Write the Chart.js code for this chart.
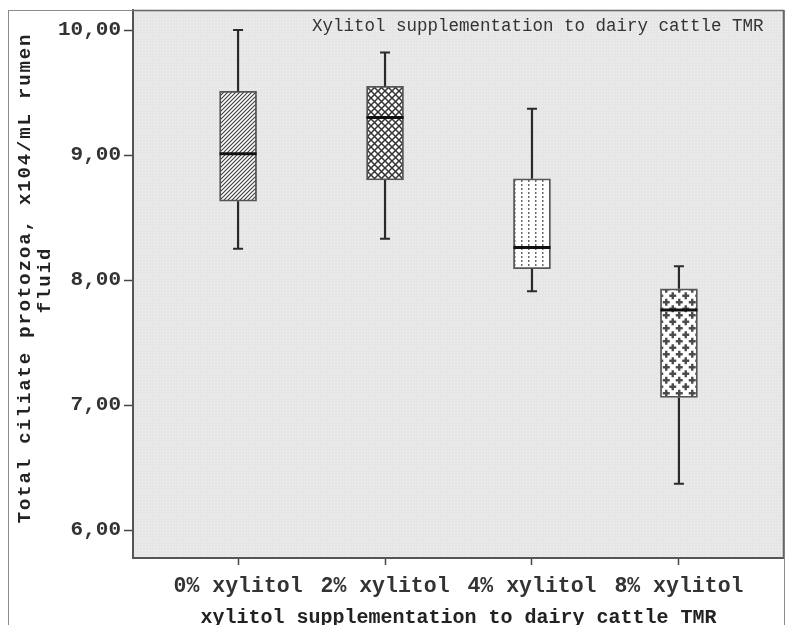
<!DOCTYPE html>
<html>
<head>
<meta charset="utf-8">
<script src="https://cdn.jsdelivr.net/npm/chart.js@4/dist/chart.umd.min.js"></script>
<style>
html,body{margin:0;padding:0;background:#fff;}
#wrap{width:787px;height:625px;position:relative;}
</style>
</head>
<body>
<div id="wrap"><canvas id="c"></canvas></div>
<script>
// ---- data ----
const categories = ["0% xylitol", "2% xylitol", "4% xylitol", "8% xylitol"];
const whiskerMax = [10.00, 9.82, 9.37, 8.11];
const q3Values   = [9.51, 9.55, 8.81, 7.93];
const medians    = [9.01, 9.30, 8.26, 7.76];
const q1Values   = [8.63, 8.80, 8.09, 7.06];
const whiskerMin = [8.25, 8.33, 7.91, 6.37];
const yTicks = [6, 7, 8, 9, 10];
const chartTitle = "Xylitol supplementation to dairy cattle TMR";
const xTitle = "xylitol supplementation to dairy cattle TMR";
const yTitle = ["Total ciliate protozoa, x104/mL rumen", "fluid"];

// ---- patterns ----
function tile(w, h, draw) {
  const c = document.createElement('canvas');
  c.width = w; c.height = h;
  const g = c.getContext('2d');
  g.fillStyle = '#ffffff';
  g.fillRect(0, 0, w, h);
  draw(g, w, h);
  return document.createElement('canvas').getContext('2d').createPattern(c, 'repeat');
}
const patDiag = tile(4, 4, (g) => {
  g.strokeStyle = '#3a3a3a'; g.lineWidth = 1.1;
  g.beginPath();
  g.moveTo(-1, 5); g.lineTo(5, -1);
  g.moveTo(-1, 1); g.lineTo(1, -1);
  g.moveTo(3, 5); g.lineTo(5, 3);
  g.stroke();
});
const patCross = tile(7, 7, (g) => {
  g.strokeStyle = '#333'; g.lineWidth = 1.5;
  g.beginPath();
  g.moveTo(0, 0); g.lineTo(7, 7);
  g.moveTo(0, 7); g.lineTo(7, 0);
  g.stroke();
});
const patDots = tile(7, 4, (g) => {
  g.fillStyle = '#6a6a6a';
  g.fillRect(3, 0, 1.5, 2);
});
const patPlus = tile(13, 13, (g) => {
  g.fillStyle = '#4a4a4a';
  const plus = (cx, cy) => {
    g.fillRect(cx - 3.5, cy - 1.2, 7, 2.4);
    g.fillRect(cx - 1.2, cy - 3.5, 2.4, 7);
  };
  const pts = [[3.25, 3.25], [9.75, 9.75]];
  for (const [px, py] of pts) {
    for (const dx of [-13, 0, 13]) for (const dy of [-13, 0, 13]) plus(px + dx, py + dy);
  }
});
const bgPat = tile(3, 3, (g) => {
  g.fillStyle = '#e6e6e6';
  g.fillRect(0, 0, 3, 3);
  g.fillStyle = '#f2f2f2';
  g.fillRect(1, 1, 1, 1);
});

const boxPatterns = [patDiag, patCross, patDots, patPlus];

// ---- plugins ----
const bgPlugin = {
  id: 'bg',
  beforeDraw(chart) {
    const {ctx, chartArea: a} = chart;
    ctx.save();
    ctx.fillStyle = bgPat;
    ctx.fillRect(a.left, a.top, a.right - a.left, a.bottom - a.top);
    ctx.restore();
  },
  afterDraw(chart) {
    const {ctx, chartArea: a} = chart;
    ctx.save();
    // outer frame
    ctx.strokeStyle = '#8a8a8a'; ctx.lineWidth = 1;
    ctx.strokeRect(8.5, 10.5, a.right - 8, 640);
    // top and right plot borders
    ctx.strokeStyle = '#666'; ctx.lineWidth = 1.5;
    ctx.beginPath();
    ctx.moveTo(a.left, a.top + 0.5); ctx.lineTo(a.right, a.top + 0.5);
    ctx.moveTo(a.right - 0.5, a.top); ctx.lineTo(a.right - 0.5, a.bottom);
    ctx.stroke();
    // inner title
    ctx.fillStyle = '#333';
    ctx.font = '17.5px "Liberation Mono", monospace';
    ctx.textAlign = 'left';
    ctx.textBaseline = 'middle';
    ctx.fillText(chartTitle, 312, a.top + 16);
    // y axis title (two rotated lines)
    ctx.fillStyle = '#222';
    ctx.font = 'bold 19px "Liberation Mono", monospace';
    ctx.letterSpacing = '1.85px';
    ctx.textAlign = 'center';
    ctx.translate(0, 278);
    ctx.rotate(-Math.PI / 2);
    ctx.fillText(yTitle[0], 0, 25);
    ctx.fillText(yTitle[1], -2, 45);
    ctx.restore();
  }
};

const boxPlugin = {
  id: 'boxes',
  afterDatasetsDraw(chart) {
    const {ctx, scales: {x, y}} = chart;
    const half = 18.5, cap = 5;
    ctx.save();
    ctx.strokeStyle = '#2a2a2a';
    ctx.lineWidth = 2.2;
    categories.forEach((c, i) => {
      const px = x.getPixelForValue(i);
      const yMax = y.getPixelForValue(whiskerMax[i]);
      const yQ3 = y.getPixelForValue(q3Values[i]);
      const yQ1 = y.getPixelForValue(q1Values[i]);
      const yMin = y.getPixelForValue(whiskerMin[i]);
      ctx.beginPath();
      ctx.moveTo(px, yQ3); ctx.lineTo(px, yMax);
      ctx.moveTo(px - cap, yMax); ctx.lineTo(px + cap, yMax);
      ctx.moveTo(px, yQ1); ctx.lineTo(px, yMin);
      ctx.moveTo(px - cap, yMin); ctx.lineTo(px + cap, yMin);
      ctx.stroke();
    });
    ctx.strokeStyle = '#111';
    ctx.lineWidth = 3;
    categories.forEach((c, i) => {
      const px = x.getPixelForValue(i);
      const ym = y.getPixelForValue(medians[i]);
      ctx.beginPath();
      ctx.moveTo(px - half, ym); ctx.lineTo(px + half, ym);
      ctx.stroke();
    });
    ctx.restore();
  }
};

// ---- chart ----
const mono = '"Liberation Mono", "DejaVu Sans Mono", monospace';
new Chart(document.getElementById('c'), {
  type: 'bar',
  data: {
    datasets: [{
      data: categories.map((c, i) => ({x: i, y: [q1Values[i], q3Values[i]]})),
      backgroundColor: boxPatterns,
      borderColor: '#555',
      borderWidth: 1.8,
      borderSkipped: false,
      barThickness: 37
    }]
  },
  options: {
    responsive: true,
    maintainAspectRatio: false,
    animation: false,
    events: [],
    layout: {padding: {left: 8, top: 10, right: 3, bottom: 0}},
    plugins: {legend: {display: false}, tooltip: {enabled: false}},
    scales: {
      x: {
        type: 'linear',
        offset: false,
        min: -0.715,
        max: 3.715,
        afterBuildTicks(s) { s.ticks = categories.map((c, i) => ({value: i})); },
        afterFit(s) { s.height = 67; s.paddingLeft = 0; s.paddingRight = 0; },
        ticks: {
          callback: (v) => categories[v],
          color: '#333',
          padding: 9,
          font: {family: mono, size: 21.5, weight: 'bold'},
          maxRotation: 0,
          autoSkip: false
        },
        grid: {offset: false, drawOnChartArea: false, drawTicks: true, tickLength: 7, tickColor: '#444', tickWidth: 1.5},
        border: {display: true, color: '#555', width: 2},
        title: {
          display: true,
          text: xTitle,
          color: '#222',
          padding: {top: 0, bottom: 0},
          font: {family: mono, size: 20, weight: 'bold', lineHeight: 0.7}
        }
      },
      y: {
        type: 'linear',
        min: 5.776,
        max: 10.16,
        afterBuildTicks(s) { s.ticks = yTicks.map(v => ({value: v})); },
        afterFit(s) { s.width = 125; s.paddingTop = 0; s.paddingBottom = 0; },
        ticks: {
          callback: (v) => v.toFixed(2).replace('.', ','),
          color: '#333',
          padding: 3,
          font: {family: mono, size: 21, weight: 'bold'}
        },
        grid: {drawOnChartArea: false, drawTicks: true, tickLength: 9, tickColor: '#444', tickWidth: 1.5},
        border: {display: true, color: '#555', width: 2},
        title: {display: false}
      }
    }
  },
  plugins: [bgPlugin, boxPlugin]
});
</script>
</body>
</html>
